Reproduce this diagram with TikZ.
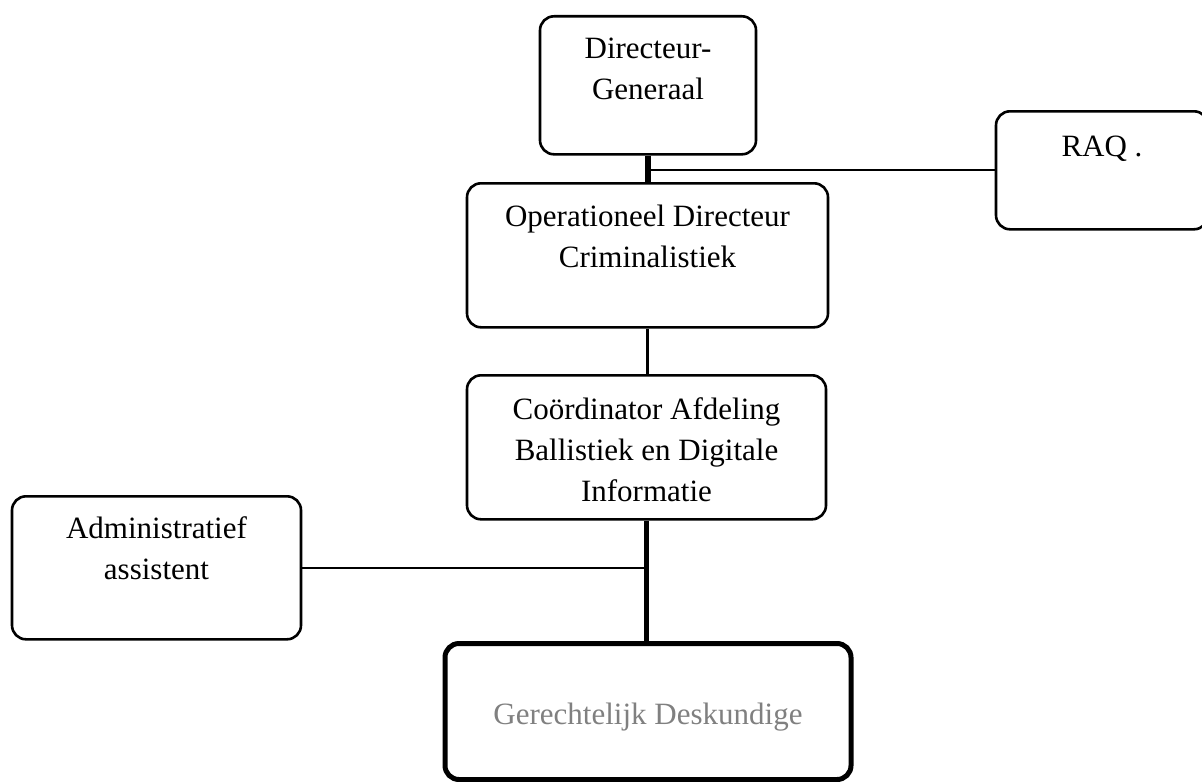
\documentclass[tikz,border=0pt]{standalone}
\usepackage{fontspec}
\setmainfont{Liberation Serif}

\tikzset{
  orgbox/.style={draw, rounded corners=7pt, line width=1.3pt, anchor=north,
    inner sep=0pt, align=center, font=\fontsize{15.5}{20.5}\selectfont},
  thinline/.style={line width=1.1pt},
  thickline/.style={line width=2.6pt}
}

\begin{document}
\begin{tikzpicture}[x=0.5pt,y=-0.5pt]
\useasboundingbox (0,0) rectangle (1202,781);

% boxes, placed by their top edge
\node[orgbox, minimum width=108pt, text height=41.5pt, text depth=27.5pt] (dg) at (648,15) {Directeur-\\Generaal};
\node[orgbox, minimum width=106pt, text height=22.5pt, text depth=36.5pt] (raq) at (1102,110) {RAQ .};
\node[orgbox, minimum width=180.5pt, text height=42pt, text depth=30pt] (op) at (647.5,182) {Operationeel Directeur\\Criminalistiek};
\node[orgbox, minimum width=179.5pt, text height=63pt, text depth=9pt] (coord) at (646.5,374) {Coördinator Afdeling\\Ballistiek en Digitale\\Informatie};
\node[orgbox, minimum width=144.5pt, text height=41.5pt, text depth=30pt] (admin) at (156.5,495) {Administratief\\assistent};
\node[orgbox, line width=2.5pt, text=gray, minimum width=203pt, text height=40.5pt, text depth=27.5pt] (ger) at (648,641) {Gerechtelijk Deskundige};

% connectors
\draw[thickline] (dg.south) -- (dg.south |- op.north);
\draw[thinline] (dg.south |- raq.west) -- (raq.west);
\draw[thinline] (op.south) -- (op.south |- coord.north);
\draw[thickline] (coord.south) -- (coord.south |- ger.north);
\draw[thinline] (admin.east) -- (admin.east -| coord.south);

\end{tikzpicture}
\end{document}
